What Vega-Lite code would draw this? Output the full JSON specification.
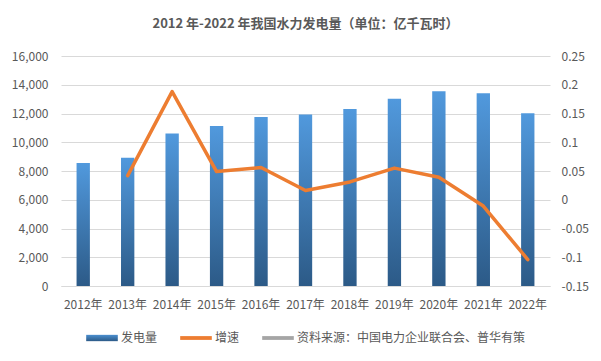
{
  "$schema": "https://vega.github.io/schema/vega-lite/v6.json",
  "width": 489,
  "height": 230,
  "autosize": "none",
  "padding": {"left": 61, "top": 56, "right": 51, "bottom": 75},
  "background": "white",
  "title": {
    "text": "2012 年-2022 年我国水力发电量（单位：亿千瓦时）",
    "font": "Noto Sans CJK SC",
    "fontSize": 13,
    "fontWeight": "bold",
    "color": "#595959",
    "anchor": "middle",
    "offset": 19
  },
  "config": {
    "view": {"stroke": null},
    "font": "Noto Sans CJK SC",
    "axis": {"labelFont": "Noto Sans CJK SC", "labelFontSize": 12, "labelColor": "#595959"}
  },
  "data": {
    "values": [
      {"year": "2012年", "gen": 8556, "growth": null, "series": "增速"},
      {"year": "2013年", "gen": 8921, "growth": 0.042, "series": "增速"},
      {"year": "2014年", "gen": 10601, "growth": 0.188, "series": "增速"},
      {"year": "2015年", "gen": 11127, "growth": 0.049, "series": "增速"},
      {"year": "2016年", "gen": 11748, "growth": 0.056, "series": "增速"},
      {"year": "2017年", "gen": 11931, "growth": 0.016, "series": "增速"},
      {"year": "2018年", "gen": 12321, "growth": 0.031, "series": "增速"},
      {"year": "2019年", "gen": 13021, "growth": 0.055, "series": "增速"},
      {"year": "2020年", "gen": 13552, "growth": 0.039, "series": "增速"},
      {"year": "2021年", "gen": 13401, "growth": -0.011, "series": "增速"},
      {"year": "2022年", "gen": 12020, "growth": -0.104, "series": "增速"}
    ]
  },
  "encoding": {
    "x": {
      "field": "year",
      "type": "nominal",
      "sort": null,
      "scale": {"paddingInner": 0.7, "paddingOuter": 0.35},
      "axis": {
        "title": null,
        "labelAngle": 0,
        "ticks": false,
        "domain": true,
        "domainColor": "#D9D9D9",
        "labelPadding": 13
      }
    }
  },
  "layer": [
    {
      "mark": {
        "type": "bar",
        "color": {
          "gradient": "linear",
          "x1": 0, "y1": 0, "x2": 0, "y2": 1,
          "stops": [
            {"offset": 0, "color": "#5199DD"},
            {"offset": 1, "color": "#2C5A87"}
          ]
        }
      },
      "encoding": {
        "y": {
          "field": "gen",
          "type": "quantitative",
          "scale": {"domain": [0, 16000], "nice": false},
          "axis": {
            "title": null,
            "values": [0, 2000, 4000, 6000, 8000, 10000, 12000, 14000, 16000],
            "format": ",.0f",
            "ticks": false,
            "domain": false,
            "gridColor": "#D9D9D9",
            "labelPadding": 13
          }
        }
      }
    },
    {
      "mark": {"type": "line", "strokeWidth": 3.5, "strokeJoin": "round", "strokeCap": "round"},
      "transform": [{"filter": "datum.growth != null"}],
      "encoding": {
        "y": {
          "field": "growth",
          "type": "quantitative",
          "scale": {"domain": [-0.15, 0.25], "nice": false, "zero": false},
          "axis": {
            "title": null,
            "orient": "right",
            "grid": false,
            "values": [-0.15, -0.1, -0.05, 0, 0.05, 0.1, 0.15, 0.2, 0.25],
            "labelExpr": "'' + datum.value",
            "ticks": false,
            "domain": false,
            "labelPadding": 11
          }
        },
        "color": {
          "field": "series",
          "type": "nominal",
          "scale": {
            "domain": ["发电量", "增速", "资料来源：中国电力企业联合会、普华有策"],
            "range": ["#3F7DBB", "#ED7D31", "#A5A5A5"]
          },
          "legend": {
            "title": null,
            "orient": "none",
            "legendX": 25,
            "legendY": 266,
            "direction": "horizontal",
            "labelFont": "Noto Sans CJK SC",
            "labelFontSize": 12,
            "labelColor": "#595959",
            "labelLimit": 400,
            "symbolType": "M-1,-0.12H1V0.12H-1Z",
            "symbolSize": 1000,
            "symbolStrokeWidth": 0,
            "labelOffset": 3,
            "columnPadding": 22,
            "encode": {
              "symbols": {
                "update": {
                  "shape": [
                    {"test": "datum.index === 0", "value": "M-1,-0.2H1V0.2H-1Z"},
                    {"value": "M-1,-0.12H1V0.12H-1Z"}
                  ],
                  "fill": [
                    {"test": "datum.index === 0", "value": {"gradient": "linear", "x1": 0, "y1": 0, "x2": 0, "y2": 1, "stops": [{"offset": 0, "color": "#4B8FD0"}, {"offset": 1, "color": "#2C5A87"}]}},
                    {"test": "datum.index === 1", "value": "#ED7D31"},
                    {"value": "#A5A5A5"}
                  ],
                  "strokeWidth": {"value": 0},
                  "opacity": {"value": 1}
                }
              }
            }
          }
        }
      }
    }
  ],
  "resolve": {"scale": {"y": "independent"}}
}
